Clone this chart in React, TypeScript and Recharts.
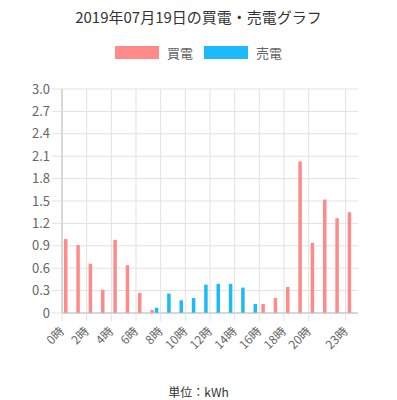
import { BarChart, Bar, XAxis, YAxis, CartesianGrid, Legend } from "recharts";

const HOURS = [
  "0時", "1時", "2時", "3時", "4時", "5時", "6時", "7時", "8時", "9時", "10時", "11時",
  "12時", "13時", "14時", "15時", "16時", "17時", "18時", "19時", "20時", "21時", "22時", "23時",
];
const BUY = [0.99, 0.91, 0.66, 0.31, 0.98, 0.64, 0.27, 0.04, 0, 0, 0, 0, 0, 0, 0, 0, 0.12, 0.2, 0.35, 2.03, 0.94, 1.52, 1.27, 1.35];
const SELL = [0, 0, 0, 0, 0, 0, 0, 0.07, 0.26, 0.17, 0.2, 0.38, 0.39, 0.39, 0.34, 0.12, 0, 0, 0, 0, 0, 0, 0, 0];
const Y_TICKS = [0, 0.3, 0.6, 0.9, 1.2, 1.5, 1.8, 2.1, 2.4, 2.7, 3.0];
const SHOWN_TICKS = ["0時", "2時", "4時", "6時", "8時", "10時", "12時", "14時", "16時", "18時", "20時", "23時"];

const data = HOURS.map((h, i) => ({ hour: h, buy: BUY[i], sell: SELL[i] }));

const W = 397;
const H = 400;
const FONT = '"Noto Sans CJK JP", "Noto Sans", sans-serif';
const PINK = "#ff8a8a";
const BLUE = "#1cbaf8";
const GRID = "#e2e2e2";
const AXIS = "#bdbdbd";
const MARGIN = { top: 70, right: 39, bottom: 0, left: 0 };
const Y_W = 62;
const X_H = 87;
const PLOT_W = W - MARGIN.left - MARGIN.right - Y_W;
const BAND = PLOT_W / HOURS.length;

function HourTick(props: any) {
  const { x, y, payload } = props;
  if (!SHOWN_TICKS.includes(payload.value)) return null;
  const tx = x - BAND / 2;
  return (
    <g>
      <line x1={tx} y1={y - 8} x2={tx} y2={y} stroke={GRID} />
      <g transform={`translate(${tx},${y + 8}) rotate(-45)`}>
        <text textAnchor="end" dy="0.35em" fontSize={12} fill="#666" fontFamily={FONT}>
          {payload.value}
        </text>
      </g>
    </g>
  );
}

function LegendBox() {
  const items = [
    { label: "買電", color: PINK },
    { label: "売電", color: BLUE },
  ];
  return (
    <div style={{ display: "flex", justifyContent: "center", gap: 11, fontFamily: FONT, fontSize: 13, color: "#666" }}>
      {items.map((it) => (
        <div key={it.label} style={{ display: "flex", alignItems: "center" }}>
          <span style={{ display: "inline-block", width: 44, height: 13, background: it.color, marginRight: 8 }} />
          <span>{it.label}</span>
        </div>
      ))}
    </div>
  );
}

export default function App() {
  return (
    <div style={{ position: "absolute", left: 0, top: 0, width: W, height: H, background: "#fff" }}>
      <div
        style={{
          position: "absolute",
          top: 6,
          width: W,
          textAlign: "center",
          fontFamily: FONT,
          fontSize: 15,
          color: "#333",
        }}
      >
        2019年07月19日の買電・売電グラフ
      </div>
      <BarChart width={W} height={H} data={data} margin={MARGIN} barGap={1} barSize={3.5}>
        <CartesianGrid
          stroke={GRID}
          verticalCoordinatesGenerator={({ offset }: any) =>
            SHOWN_TICKS.map((t) => offset.left + HOURS.indexOf(t) * (offset.width / HOURS.length))
          }
        />
        <XAxis
          dataKey="hour"
          interval={0}
          height={X_H}
          tickLine={false}
          tickSize={8}
          tickMargin={0}
          axisLine={{ stroke: AXIS }}
          tick={<HourTick />}
        />
        <YAxis
          width={Y_W}
          domain={[0, 3]}
          ticks={Y_TICKS}
          interval={0}
          tickSize={10}
          tickMargin={2}
          tickLine={{ stroke: GRID }}
          axisLine={{ stroke: AXIS }}
          tick={{ fontSize: 13, fill: "#666", fontFamily: FONT }}
          tickFormatter={(v: number) => (v === 0 ? "0" : v.toFixed(1))}
        />
        <Legend
          verticalAlign="top"
          content={() => <LegendBox />}
          wrapperStyle={{ top: 43, left: 0, width: W }}
        />
        <Bar dataKey="buy" name="買電" fill={PINK} isAnimationActive={false} />
        <Bar dataKey="sell" name="売電" fill={BLUE} isAnimationActive={false} />
      </BarChart>
      <div
        style={{
          position: "absolute",
          top: 383,
          width: W,
          textAlign: "center",
          fontFamily: FONT,
          fontSize: 12,
          color: "#333",
        }}
      >
        単位：kWh
      </div>
    </div>
  );
}
